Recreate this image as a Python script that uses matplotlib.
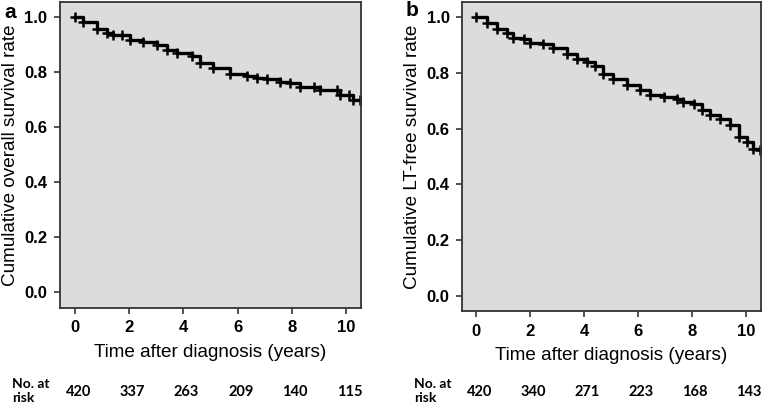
import matplotlib
matplotlib.use("Agg")
import matplotlib.pyplot as plt
import matplotlib.transforms as mtransforms

# Panel a: overall survival
time_a = [0.0, 0.31, 0.8, 1.17, 1.41, 1.72, 2.03, 2.52, 3.01, 3.38, 3.75, 4.3, 4.61,
          5.1, 5.72, 6.33, 6.7, 7.07, 7.56, 7.93, 8.3, 8.8, 9.04, 9.65, 9.78, 10.09,
          10.27, 10.5]
surv_a = [1.0, 0.983, 0.955, 0.943, 0.935, 0.935, 0.916, 0.91, 0.898, 0.88, 0.868,
          0.858, 0.832, 0.813, 0.793, 0.786, 0.777, 0.773, 0.765, 0.759, 0.744, 0.744,
          0.735, 0.735, 0.716, 0.716, 0.70, 0.70]

# Panel b: LT-free survival
time_b = [0.0, 0.4, 0.77, 1.14, 1.38, 1.76, 2.0, 2.5, 2.87, 3.36, 3.73, 4.1, 4.41,
          4.72, 5.09, 5.59, 6.08, 6.45, 6.95, 7.44, 7.68, 8.06, 8.37, 8.67, 9.05,
          9.42, 9.73, 10.04, 10.28, 10.53]
surv_b = [1.0, 0.98, 0.956, 0.944, 0.926, 0.92, 0.908, 0.902, 0.89, 0.868, 0.85,
          0.838, 0.826, 0.796, 0.777, 0.755, 0.738, 0.722, 0.714, 0.708, 0.696, 0.69,
          0.666, 0.648, 0.636, 0.612, 0.57, 0.552, 0.528, 0.522]

xticks = [0, 2, 4, 6, 8, 10]
yticks = [0.0, 0.2, 0.4, 0.6, 0.8, 1.0]
risk_a = [420, 337, 263, 209, 140, 115]
risk_b = [420, 340, 271, 223, 168, 143]

plt.rcParams['font.family'] = ['Liberation Sans', 'DejaVu Sans']

W, H = 762, 408
fig = plt.figure(figsize=(7.62, 4.08), dpi=100)
ax_a = fig.add_axes([0.0787, 0.2451, 0.3951, 0.7499])
ax_b = fig.add_axes([0.6063, 0.2377, 0.3924, 0.7573])

panels = [
    (ax_a, time_a, surv_a, risk_a, "Cumulative overall survival rate", "a",
     (-0.553, 10.55), (-0.058, 1.0545), (10, 13)),
    (ax_b, time_b, surv_b, risk_b, "Cumulative LT-free survival rate", "b",
     (-0.52, 10.56), (-0.054, 1.054), (412, 11)),
]

for ax, t, s, risk, ylab, letter, xl, yl, lpos in panels:
    ax.set_facecolor("#dcdcdc")
    ax.step(t, s, where="post", color="black", lw=2.4)
    ax.plot(t, s, linestyle="none", marker="+", ms=7, mew=1.8, color="black")
    ax.set_xlim(*xl)
    ax.set_ylim(*yl)
    ax.set_xticks(xticks)
    ax.set_yticks(yticks)
    ax.set_xticklabels([str(v) for v in xticks], fontsize=12, fontweight="bold")
    ax.set_yticklabels([f"{v:.1f}" for v in yticks], fontsize=12, fontweight="bold")
    ax.tick_params(direction="out", length=4, width=1.2, color="#333333", pad=5)
    for sp in ax.spines.values():
        sp.set_color("#333333")
        sp.set_linewidth(1.3)
    ax.set_ylabel(ylab, fontsize=13.6, labelpad=4)
    ax.set_xlabel("Time after diagnosis (years)", fontsize=13.6, labelpad=6)
    fig.text(lpos[0] / W, 1 - lpos[1] / H, letter, fontsize=15,
             fontweight="bold", ha="center", va="center")
    trans = mtransforms.blended_transform_factory(ax.transData, fig.transFigure)
    for xv, n in zip(xticks, risk):
        ax.text(xv + 0.12, 1 - 392 / H, str(n), transform=trans, ha="center",
                va="center", fontsize=10.5, fontweight="bold",
                family=["Lato", "DejaVu Sans"])
    bb = ax.get_position()
    ax.text(bb.x0 - 48 / W, 1 - 391 / H, "No. at\nrisk", transform=fig.transFigure,
            ha="left", va="center", fontsize=10, fontweight="bold",
            family=["Lato", "DejaVu Sans"], linespacing=1.2)

fig.savefig("out.png", dpi=100)
